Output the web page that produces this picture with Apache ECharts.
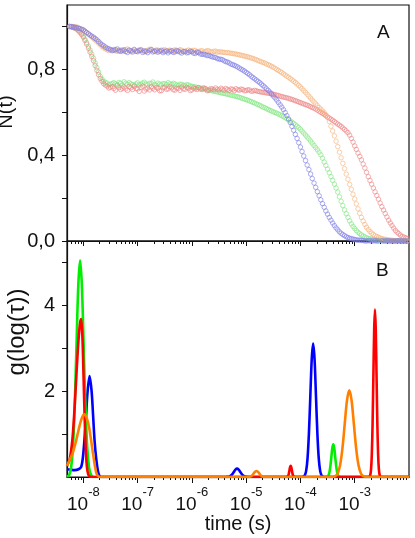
<!DOCTYPE html>
<html><head><meta charset="utf-8">
<script src="https://cdn.jsdelivr.net/npm/echarts@6/dist/echarts.min.js"></script>
<style>html,body{margin:0;padding:0;background:#fff}#chart{width:415px;height:538px}</style>
</head><body><div id="chart"></div>
<script>
// ---------- Panel A: normalized decay N(t) vs lag time (s) ----------
const lagTimes = [
  5.62e-9, 6.04e-9, 6.49e-9, 6.98e-9, 7.50e-9, 8.06e-9, 8.66e-9, 9.31e-9,
  1.00e-8, 1.07e-8, 1.15e-8, 1.24e-8, 1.33e-8, 1.43e-8, 1.54e-8, 1.65e-8, 1.78e-8, 1.91e-8, 2.05e-8, 2.21e-8, 2.37e-8, 2.55e-8, 2.74e-8, 2.94e-8,
  3.16e-8, 3.40e-8, 3.65e-8, 3.92e-8, 4.22e-8, 4.53e-8, 4.87e-8, 5.23e-8, 5.62e-8, 6.04e-8, 6.49e-8, 6.98e-8, 7.50e-8, 8.06e-8, 8.66e-8, 9.31e-8,
  1.00e-7, 1.07e-7, 1.15e-7, 1.24e-7, 1.33e-7, 1.43e-7, 1.54e-7, 1.65e-7, 1.78e-7, 1.91e-7, 2.05e-7, 2.21e-7, 2.37e-7, 2.55e-7, 2.74e-7, 2.94e-7,
  3.16e-7, 3.40e-7, 3.65e-7, 3.92e-7, 4.22e-7, 4.53e-7, 4.87e-7, 5.23e-7, 5.62e-7, 6.04e-7, 6.49e-7, 6.98e-7, 7.50e-7, 8.06e-7, 8.66e-7, 9.31e-7,
  1.00e-6, 1.07e-6, 1.15e-6, 1.24e-6, 1.33e-6, 1.43e-6, 1.54e-6, 1.65e-6, 1.78e-6, 1.91e-6, 2.05e-6, 2.21e-6, 2.37e-6, 2.55e-6, 2.74e-6, 2.94e-6,
  3.16e-6, 3.40e-6, 3.65e-6, 3.92e-6, 4.22e-6, 4.53e-6, 4.87e-6, 5.23e-6, 5.62e-6, 6.04e-6, 6.49e-6, 6.98e-6, 7.50e-6, 8.06e-6, 8.66e-6, 9.31e-6,
  1.00e-5, 1.07e-5, 1.15e-5, 1.24e-5, 1.33e-5, 1.43e-5, 1.54e-5, 1.65e-5, 1.78e-5, 1.91e-5, 2.05e-5, 2.21e-5, 2.37e-5, 2.55e-5, 2.74e-5, 2.94e-5,
  3.16e-5, 3.40e-5, 3.65e-5, 3.92e-5, 4.22e-5, 4.53e-5, 4.87e-5, 5.23e-5, 5.62e-5, 6.04e-5, 6.49e-5, 6.98e-5, 7.50e-5, 8.06e-5, 8.66e-5, 9.31e-5,
  1.00e-4, 1.07e-4, 1.15e-4, 1.24e-4, 1.33e-4, 1.43e-4, 1.54e-4, 1.65e-4, 1.78e-4, 1.91e-4, 2.05e-4, 2.21e-4, 2.37e-4, 2.55e-4, 2.74e-4, 2.94e-4,
  3.16e-4, 3.40e-4, 3.65e-4, 3.92e-4, 4.22e-4, 4.53e-4, 4.87e-4, 5.23e-4, 5.62e-4, 6.04e-4, 6.49e-4, 6.98e-4, 7.50e-4, 8.06e-4, 8.66e-4, 9.31e-4,
  1.00e-3, 1.07e-3, 1.15e-3, 1.24e-3, 1.33e-3, 1.43e-3, 1.54e-3, 1.65e-3, 1.78e-3, 1.91e-3, 2.05e-3, 2.21e-3, 2.37e-3, 2.55e-3, 2.74e-3, 2.94e-3,
  3.16e-3, 3.40e-3, 3.65e-3, 3.92e-3, 4.22e-3, 4.53e-3, 4.87e-3, 5.23e-3, 5.62e-3, 6.04e-3, 6.49e-3, 6.98e-3, 7.50e-3, 8.06e-3, 8.66e-3, 9.31e-3
];
const blueN = [
  1.000, 0.999, 0.998, 0.996, 0.994, 0.992, 0.990, 0.987, 0.984, 0.978, 0.972, 0.966, 0.960, 0.955, 0.950, 0.944, 0.938, 0.930, 0.922, 0.915,
  0.910, 0.904, 0.899, 0.896, 0.893, 0.887, 0.889, 0.892, 0.895, 0.886, 0.884, 0.889, 0.891, 0.883, 0.879, 0.890, 0.887, 0.881, 0.893, 0.885,
  0.882, 0.888, 0.890, 0.879, 0.886, 0.884, 0.878, 0.887, 0.892, 0.881, 0.884, 0.889, 0.880, 0.885, 0.889, 0.878, 0.883, 0.886, 0.877, 0.884,
  0.887, 0.879, 0.881, 0.888, 0.885, 0.880, 0.876, 0.883, 0.884, 0.877, 0.879, 0.885, 0.882, 0.876, 0.874, 0.880, 0.878, 0.872, 0.870, 0.871,
  0.868, 0.864, 0.865, 0.861, 0.858, 0.857, 0.855, 0.850, 0.848, 0.847, 0.845, 0.840, 0.836, 0.834, 0.830, 0.825, 0.822, 0.819, 0.815, 0.811,
  0.806, 0.801, 0.797, 0.792, 0.786, 0.781, 0.775, 0.768, 0.762, 0.756, 0.750, 0.744, 0.738, 0.731, 0.724, 0.717, 0.709, 0.702, 0.694, 0.685,
  0.676, 0.667, 0.657, 0.646, 0.635, 0.624, 0.612, 0.599, 0.584, 0.569, 0.552, 0.534, 0.516, 0.497, 0.478, 0.458, 0.438, 0.417, 0.396, 0.375,
  0.354, 0.333, 0.312, 0.291, 0.270, 0.250, 0.230, 0.211, 0.192, 0.174, 0.157, 0.140, 0.125, 0.110, 0.097, 0.084, 0.072, 0.061, 0.052, 0.043,
  0.036, 0.030, 0.025, 0.020, 0.016, 0.013, 0.011, 0.009, 0.007, 0.005, 0.004, 0.004, 0.003, 0.002, 0.001, 0.000, 0.002, 0.001, 0.000, 0.001,
  0.001, 0.000, 0.000, -0.001, 0.001, 0.000, 0.000, 0.001, 0.001, 0.000, 0.000, 0.000, 0.000, 0.001, 0.001, 0.000, 0.000, 0.001, 0.000, 0.000
];
const greenN = [
  1.000, 0.998, 0.996, 0.993, 0.990, 0.983, 0.975, 0.966, 0.955, 0.941, 0.925, 0.908, 0.890, 0.871, 0.852, 0.830, 0.808, 0.787, 0.768, 0.755,
  0.745, 0.739, 0.736, 0.728, 0.731, 0.734, 0.738, 0.733, 0.729, 0.739, 0.735, 0.727, 0.742, 0.735, 0.730, 0.738, 0.733, 0.729, 0.726, 0.732,
  0.737, 0.728, 0.731, 0.736, 0.740, 0.732, 0.728, 0.735, 0.734, 0.741, 0.730, 0.726, 0.736, 0.731, 0.727, 0.734, 0.733, 0.729, 0.738, 0.732,
  0.729, 0.735, 0.732, 0.727, 0.725, 0.731, 0.730, 0.726, 0.724, 0.729, 0.727, 0.722, 0.721, 0.719, 0.718, 0.716, 0.714, 0.713, 0.711, 0.709,
  0.707, 0.705, 0.703, 0.702, 0.700, 0.698, 0.697, 0.695, 0.693, 0.691, 0.689, 0.688, 0.686, 0.684, 0.682, 0.680, 0.678, 0.676, 0.674, 0.672,
  0.670, 0.667, 0.664, 0.661, 0.659, 0.656, 0.653, 0.650, 0.646, 0.643, 0.639, 0.636, 0.632, 0.628, 0.624, 0.621, 0.617, 0.613, 0.609, 0.606,
  0.602, 0.599, 0.596, 0.592, 0.588, 0.584, 0.580, 0.575, 0.570, 0.565, 0.560, 0.554, 0.548, 0.542, 0.535, 0.528, 0.521, 0.512, 0.503, 0.494,
  0.485, 0.476, 0.466, 0.456, 0.445, 0.435, 0.425, 0.414, 0.402, 0.386, 0.368, 0.352, 0.335, 0.318, 0.300, 0.283, 0.265, 0.247, 0.228, 0.206,
  0.185, 0.165, 0.145, 0.127, 0.110, 0.094, 0.080, 0.068, 0.058, 0.049, 0.041, 0.034, 0.028, 0.023, 0.019, 0.015, 0.012, 0.010, 0.008, 0.007,
  0.006, 0.005, 0.004, 0.004, 0.003, 0.002, 0.002, 0.001, 0.001, 0.000, 0.002, 0.001, 0.000, 0.000, 0.001, 0.000, 0.000, 0.001, 0.001, 0.000
];
const redN = [
  1.000, 0.998, 0.995, 0.992, 0.988, 0.981, 0.972, 0.962, 0.950, 0.935, 0.918, 0.899, 0.880, 0.860, 0.840, 0.818, 0.795, 0.775, 0.757, 0.744,
  0.733, 0.727, 0.722, 0.713, 0.716, 0.720, 0.711, 0.703, 0.724, 0.715, 0.706, 0.712, 0.718, 0.709, 0.702, 0.720, 0.714, 0.706, 0.721, 0.711,
  0.708, 0.697, 0.716, 0.722, 0.699, 0.708, 0.713, 0.704, 0.719, 0.712, 0.705, 0.716, 0.712, 0.700, 0.701, 0.714, 0.717, 0.707, 0.709, 0.719,
  0.714, 0.705, 0.703, 0.713, 0.711, 0.702, 0.718, 0.709, 0.707, 0.716, 0.712, 0.701, 0.704, 0.713, 0.710, 0.706, 0.715, 0.708, 0.706, 0.714,
  0.711, 0.700, 0.703, 0.710, 0.709, 0.705, 0.713, 0.707, 0.704, 0.712, 0.708, 0.703, 0.711, 0.706, 0.702, 0.709, 0.707, 0.701, 0.710, 0.705,
  0.703, 0.708, 0.706, 0.700, 0.701, 0.705, 0.704, 0.698, 0.699, 0.702, 0.700, 0.697, 0.696, 0.694, 0.693, 0.692, 0.690, 0.689, 0.688, 0.686,
  0.684, 0.682, 0.680, 0.678, 0.675, 0.673, 0.671, 0.669, 0.667, 0.665, 0.662, 0.660, 0.657, 0.654, 0.651, 0.648, 0.645, 0.642, 0.639, 0.636,
  0.633, 0.630, 0.626, 0.622, 0.619, 0.615, 0.610, 0.605, 0.600, 0.595, 0.590, 0.584, 0.578, 0.573, 0.568, 0.563, 0.557, 0.551, 0.545, 0.540,
  0.534, 0.527, 0.520, 0.513, 0.505, 0.493, 0.478, 0.461, 0.443, 0.427, 0.410, 0.394, 0.378, 0.359, 0.340, 0.320, 0.300, 0.282, 0.265, 0.247,
  0.229, 0.212, 0.195, 0.177, 0.160, 0.144, 0.128, 0.112, 0.097, 0.084, 0.072, 0.060, 0.049, 0.041, 0.034, 0.027, 0.021, 0.018, 0.015, 0.012
];
const orangeN = [
  1.000, 1.000, 1.000, 0.999, 0.998, 0.995, 0.990, 0.986, 0.982, 0.977, 0.972, 0.965, 0.958, 0.951, 0.944, 0.937, 0.930, 0.922, 0.915, 0.907,
  0.900, 0.896, 0.892, 0.887, 0.888, 0.891, 0.893, 0.886, 0.884, 0.889, 0.891, 0.883, 0.887, 0.892, 0.895, 0.888, 0.882, 0.887, 0.890, 0.884,
  0.886, 0.891, 0.893, 0.887, 0.881, 0.886, 0.889, 0.893, 0.894, 0.888, 0.885, 0.882, 0.890, 0.886, 0.883, 0.889, 0.892, 0.885, 0.887, 0.890,
  0.884, 0.888, 0.891, 0.884, 0.886, 0.892, 0.889, 0.883, 0.882, 0.887, 0.890, 0.886, 0.885, 0.889, 0.888, 0.882, 0.883, 0.886, 0.887, 0.881,
  0.884, 0.887, 0.886, 0.882, 0.881, 0.884, 0.885, 0.880, 0.882, 0.881, 0.880, 0.879, 0.878, 0.878, 0.877, 0.875, 0.874, 0.873, 0.871, 0.870,
  0.868, 0.866, 0.864, 0.862, 0.860, 0.858, 0.856, 0.853, 0.851, 0.848, 0.845, 0.841, 0.838, 0.835, 0.832, 0.829, 0.825, 0.822, 0.818, 0.814,
  0.810, 0.805, 0.800, 0.795, 0.790, 0.785, 0.779, 0.774, 0.768, 0.763, 0.757, 0.751, 0.745, 0.739, 0.732, 0.725, 0.718, 0.710, 0.701, 0.693,
  0.684, 0.675, 0.666, 0.657, 0.648, 0.639, 0.630, 0.622, 0.614, 0.606, 0.598, 0.588, 0.576, 0.557, 0.535, 0.513, 0.490, 0.465, 0.440, 0.414,
  0.388, 0.362, 0.337, 0.312, 0.288, 0.264, 0.241, 0.218, 0.196, 0.173, 0.150, 0.129, 0.110, 0.093, 0.077, 0.064, 0.053, 0.044, 0.036, 0.030,
  0.025, 0.021, 0.017, 0.014, 0.011, 0.009, 0.008, 0.006, 0.005, 0.004, 0.003, 0.002, 0.002, 0.001, 0.001, 0.001, 0.001, 0.000, 0.000, 0.000
];

// ---------- Panel B: distribution g(log(tau)) ----------
const blueTau = [5.0e-9, 5.81e-9, 6.89e-9, 8.15e-9, 9.15e-9, 9.8e-9, 1.05e-8, 1.12e-8, 1.19e-8, 1.30e-8, 1.42e-8, 1.51e-8, 1.61e-8, 1.73e-8, 1.87e-8, 2.0e-8, 2.17e-8,
  4.2e-6, 4.49e-6, 4.81e-6, 5.15e-6, 5.52e-6, 5.92e-6, 6.34e-6, 6.79e-6, 7.28e-6, 7.80e-6, 8.36e-6, 8.95e-6, 9.59e-6, 1.03e-5, 1.1e-5,
  1.05e-4, 1.127e-4, 1.197e-4, 1.271e-4, 1.349e-4, 1.432e-4, 1.521e-4, 1.614e-4, 1.714e-4, 1.820e-4, 1.932e-4, 2.051e-4, 2.178e-4, 2.312e-4, 2.455e-4, 2.606e-4, 2.8e-4, 1.0e-2];
const blueG = [0.18, 0.17, 0.16, 0.18, 0.24, 0.45, 0.88, 1.40, 1.95, 2.35, 2.00, 1.45, 0.85, 0.42, 0.12, 0.02, 0,
  0, 0.002, 0.009, 0.026, 0.063, 0.118, 0.172, 0.195, 0.172, 0.118, 0.063, 0.026, 0.009, 0.002, 0,
  0, 0.007, 0.035, 0.137, 0.421, 1.01, 1.886, 2.745, 3.11, 2.745, 1.886, 1.01, 0.421, 0.137, 0.035, 0.007, 0, 0];

const greenTau = [5.0e-9, 5.12e-9, 5.52e-9, 5.96e-9, 6.43e-9, 6.93e-9, 7.48e-9, 8.07e-9, 8.71e-9, 9.40e-9, 1.014e-8, 1.094e-8, 1.180e-8, 1.274e-8, 1.374e-8, 1.483e-8, 1.6e-8,
  2.9e-4, 3.013e-4, 3.141e-4, 3.273e-4, 3.412e-4, 3.556e-4, 3.707e-4, 3.864e-4, 4.027e-4, 4.198e-4, 4.375e-4, 4.560e-4, 4.753e-4, 4.955e-4, 5.164e-4, 5.383e-4, 5.6e-4, 1.0e-2];
const greenG = [0.005, 0.011, 0.056, 0.222, 0.683, 1.64, 3.06, 4.46, 5.05, 4.46, 3.06, 1.64, 0.683, 0.222, 0.056, 0.011, 0,
  0, 0.002, 0.008, 0.033, 0.103, 0.247, 0.461, 0.671, 0.76, 0.671, 0.461, 0.247, 0.103, 0.033, 0.008, 0.002, 0, 0];

const redTau = [5.0e-9, 5.62e-9, 6.31e-9, 6.92e-9, 7.59e-9, 8.13e-9, 8.71e-9, 9.14e-9, 9.66e-9, 1.012e-8, 1.059e-8, 1.109e-8, 1.161e-8, 1.23e-8, 1.318e-8, 1.413e-8,
  5.4e-5, 5.534e-5, 5.675e-5, 5.821e-5, 5.970e-5, 6.124e-5, 6.281e-5, 6.442e-5, 6.607e-5, 6.776e-5, 6.950e-5, 7.129e-5, 7.311e-5, 7.499e-5, 7.691e-5, 7.889e-5, 8.1e-5,
  1.82e-3, 1.868e-3, 1.932e-3, 1.997e-3, 2.065e-3, 2.135e-3, 2.208e-3, 2.283e-3, 2.360e-3, 2.440e-3, 2.523e-3, 2.609e-3, 2.698e-3, 2.789e-3, 2.884e-3, 2.982e-3, 3.1e-3, 1.0e-2];
const redG = [0.26, 0.42, 0.90, 1.64, 2.56, 3.18, 3.59, 3.68, 3.19, 2.28, 1.34, 0.64, 0.25, 0.06, 0.01, 0,
  0, 0.001, 0.003, 0.011, 0.035, 0.084, 0.158, 0.229, 0.26, 0.229, 0.158, 0.084, 0.035, 0.011, 0.003, 0.001, 0,
  0, 0.009, 0.043, 0.171, 0.528, 1.266, 2.365, 3.442, 3.9, 3.442, 2.365, 1.266, 0.528, 0.171, 0.043, 0.009, 0, 0];

const orangeTau = [5.0e-9, 5.62e-9, 6.40e-9, 7.41e-9, 8.51e-9, 9.55e-9, 1.052e-8, 1.148e-8, 1.262e-8, 1.38e-8, 1.496e-8, 1.622e-8, 1.73e-8, 1.84e-8, 2.0e-8,
  9.8e-6, 1.035e-5, 1.096e-5, 1.161e-5, 1.230e-5, 1.303e-5, 1.380e-5, 1.462e-5, 1.549e-5, 1.641e-5, 1.738e-5, 1.841e-5, 1.950e-5, 2.065e-5, 2.188e-5, 2.317e-5,
  3.8e-4, 4.004e-4, 4.416e-4, 4.870e-4, 5.370e-4, 5.923e-4, 6.531e-4, 7.202e-4, 7.943e-4, 8.759e-4, 9.66e-4, 1.065e-3, 1.175e-3, 1.296e-3, 1.429e-3, 1.576e-3, 1.7e-3, 1.0e-2];
const orangeG = [0.26, 0.40, 0.57, 0.86, 1.19, 1.40, 1.46, 1.38, 1.19, 0.88, 0.57, 0.28, 0.10, 0.03, 0,
  0, 0.000, 0.002, 0.006, 0.019, 0.045, 0.085, 0.124, 0.14, 0.124, 0.085, 0.045, 0.019, 0.006, 0.002, 0.000,
  0, 0.004, 0.022, 0.089, 0.273, 0.656, 1.225, 1.783, 2.02, 1.783, 1.225, 0.656, 0.273, 0.089, 0.022, 0.004, 0, 0];

// ---------- Axis ticks / labels ----------
const timeMajorTicks = [1e-8, 1e-7, 1e-6, 1e-5, 1e-4, 1e-3];
const timeTickExponents = ['-8', '-7', '-6', '-5', '-4', '-3'];
const timeMinorTicks = [6e-9, 7e-9, 8e-9, 9e-9,
  2e-8, 3e-8, 4e-8, 5e-8, 6e-8, 7e-8, 8e-8, 9e-8,
  2e-7, 3e-7, 4e-7, 5e-7, 6e-7, 7e-7, 8e-7, 9e-7,
  2e-6, 3e-6, 4e-6, 5e-6, 6e-6, 7e-6, 8e-6, 9e-6,
  2e-5, 3e-5, 4e-5, 5e-5, 6e-5, 7e-5, 8e-5, 9e-5,
  2e-4, 3e-4, 4e-4, 5e-4, 6e-4, 7e-4, 8e-4, 9e-4,
  2e-3, 3e-3, 4e-3, 5e-3, 6e-3, 7e-3, 8e-3, 9e-3];
const nTicks = [0, 0.2, 0.4, 0.6, 0.8, 1.0];
const nLabels = [0, 0.4, 0.8];
const gTicks = [1, 2, 3, 4, 5];
const gLabels = [2, 4];

const FONT = '"Liberation Sans", Arial, Helvetica, sans-serif';
const INK = '#111';
const T_MIN = 5e-9, T_MAX = 1e-2;

function pairs(xs, ys) { return xs.map((x, i) => [x, ys[i]]); }

function timeAxis(gridIndex, ticks, tickLen, withLabels, showLine) {
  const ax = {
    type: 'log', gridIndex: gridIndex, position: 'bottom', min: T_MIN, max: T_MAX,
    axisLine: { show: showLine, lineStyle: { color: INK, width: 1.2 } },
    axisTick: { show: true, inside: false, length: tickLen, customValues: ticks, lineStyle: { color: INK, width: 1 } },
    axisLabel: { show: false },
    splitLine: { show: false }, minorTick: { show: false }, minorSplitLine: { show: false }
  };
  if (withLabels) {
    ax.axisLabel = {
      show: true, customValues: timeMajorTicks, margin: 9,
      formatter: function (v) {
        let k = 0;
        for (let i = 0; i < timeMajorTicks.length; i++) {
          if (Math.abs(Math.log10(timeMajorTicks[i] / v)) < 0.01) k = i;
        }
        return '{b|10}{s|' + timeTickExponents[k] + '}';
      },
      rich: {
        b: { fontSize: 19, fontFamily: FONT, color: INK, lineHeight: 28, verticalAlign: 'bottom' },
        s: { fontSize: 13, fontFamily: FONT, color: INK, lineHeight: 12, verticalAlign: 'top' }
      }
    };
    ax.name = 'time (s)';
    ax.nameLocation = 'middle';
    ax.nameGap = 36;
    ax.nameTextStyle = { fontSize: 20, fontFamily: FONT, color: INK };
  }
  return ax;
}

function markerStyle(c) {
  return { color: 'rgba(0,0,0,0)', borderColor: c, borderWidth: 0.8 };
}

const option = {
  animation: false,
  backgroundColor: '#fff',
  grid: [
    { left: 67, right: 6, top: 5, height: 236, show: true, borderColor: INK, borderWidth: 1.2, containLabel: false, outerBoundsMode: 'none' },
    { left: 67, right: 6, top: 241, height: 236, show: true, borderColor: INK, borderWidth: 1.2, containLabel: false, outerBoundsMode: 'none' }
  ],
  xAxis: [
    timeAxis(0, timeMajorTicks, 5, false, true),
    timeAxis(0, timeMinorTicks, 3, false, false),
    timeAxis(1, timeMajorTicks, 6, true, true),
    timeAxis(1, timeMinorTicks, 3, false, false)
  ],
  yAxis: [
    {
      type: 'value', gridIndex: 0, min: 0, max: 1.1,
      axisLine: { show: true, lineStyle: { color: INK, width: 1.2 } },
      axisTick: { show: true, inside: false, length: 5, customValues: nTicks, lineStyle: { color: INK } },
      axisLabel: { customValues: nLabels, margin: 12, fontSize: 20, fontFamily: FONT, color: INK,
        formatter: function (v) { return v.toFixed(1).replace('.', ','); } },
      splitLine: { show: false },
      name: 'N(t)', nameLocation: 'middle', nameGap: 46, nameRotate: 90,
      nameTextStyle: { fontSize: 20, fontFamily: FONT, color: INK, padding: [0, 0, 0, 22] }
    },
    {
      type: 'value', gridIndex: 1, min: 0, max: 5.5,
      axisLine: { show: true, lineStyle: { color: INK, width: 1.2 } },
      axisTick: { show: true, inside: false, length: 5, customValues: gTicks, lineStyle: { color: INK } },
      axisLabel: { customValues: gLabels, margin: 12, fontSize: 20, fontFamily: FONT, color: INK },
      splitLine: { show: false },
      name: 'g(log(τ))', nameLocation: 'middle', nameGap: 38, nameRotate: 90,
      nameTextStyle: { fontSize: 24, fontFamily: FONT, color: INK, padding: [0, 0, 0, 54] }
    }
  ],
  graphic: [
    { type: 'text', left: 377, top: 23, style: { text: 'A', font: '19px ' + FONT, fill: INK } },
    { type: 'text', left: 376, top: 261, style: { text: 'B', font: '19px ' + FONT, fill: INK } }
  ],
  series: [
    { name: 'green A', type: 'scatter', xAxisIndex: 0, yAxisIndex: 0, data: pairs(lagTimes, greenN), symbol: 'circle', symbolSize: 4.5,
      itemStyle: markerStyle('#80e680') },
    { name: 'red A', type: 'scatter', xAxisIndex: 0, yAxisIndex: 0, data: pairs(lagTimes, redN), symbol: 'circle', symbolSize: 4.5,
      itemStyle: markerStyle('#ee8282') },
    { name: 'orange A', type: 'scatter', xAxisIndex: 0, yAxisIndex: 0, data: pairs(lagTimes, orangeN), symbol: 'circle', symbolSize: 4.5,
      itemStyle: markerStyle('#f6b47c') },
    { name: 'blue A', type: 'scatter', xAxisIndex: 0, yAxisIndex: 0, data: pairs(lagTimes, blueN), symbol: 'circle', symbolSize: 4.5,
      itemStyle: markerStyle('#7c7ce8') },

    { name: 'blue B', type: 'line', xAxisIndex: 2, yAxisIndex: 1, data: pairs(blueTau, blueG), showSymbol: false, smooth: 0.3,
      lineStyle: { color: '#0000ff', width: 2.6 } },
    { name: 'green B', type: 'line', xAxisIndex: 2, yAxisIndex: 1, data: pairs(greenTau, greenG), showSymbol: false, smooth: 0.3,
      lineStyle: { color: '#00ee00', width: 2.6 } },
    { name: 'red B', type: 'line', xAxisIndex: 2, yAxisIndex: 1, data: pairs(redTau, redG), showSymbol: false, smooth: 0.3,
      lineStyle: { color: '#ff0000', width: 2.6 } },
    { name: 'orange B', type: 'line', xAxisIndex: 2, yAxisIndex: 1, data: pairs(orangeTau, orangeG), showSymbol: false, smooth: 0.3,
      lineStyle: { color: '#ff8000', width: 2.6 } }
  ]
};

const chart = echarts.init(document.getElementById('chart'), null, { renderer: 'canvas' });
chart.setOption(option);
</script>
</body></html>
